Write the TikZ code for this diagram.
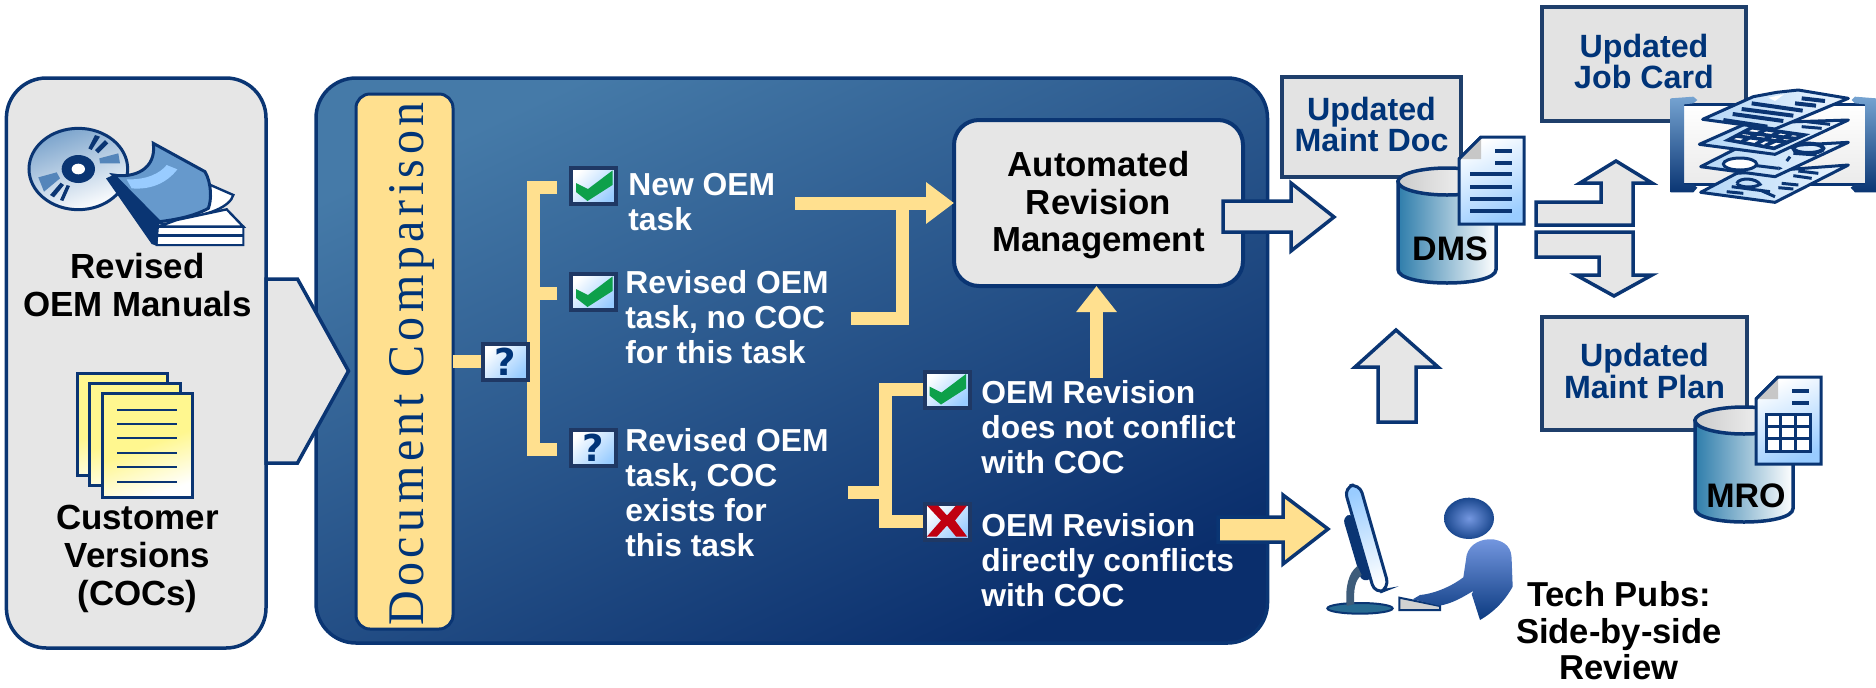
\documentclass[tikz,border=0pt]{standalone}
\usepackage{fontspec}
\setmainfont{Liberation Sans}
\newfontfamily\dcfont[LetterSpace=9.4]{Liberation Serif}
\newfontfamily\qfont{DejaVu Sans}
\usetikzlibrary{arrows.meta}
\definecolor{navy}{HTML}{0A3573}
\definecolor{frameblue}{HTML}{1F3F6B}
\definecolor{iconframe}{HTML}{1F3864}
\definecolor{txtnavy}{HTML}{003478}
\definecolor{panelgrey}{HTML}{E6E6E6}
\definecolor{boxgrey}{HTML}{E3E3E3}
\definecolor{ylw}{HTML}{FFE08F}
\definecolor{iconblue}{HTML}{99CCFF}
\definecolor{okgreen}{HTML}{0DA04A}
\definecolor{xred}{HTML}{C00010}
\definecolor{cyteal}{HTML}{2E7DAB}
\definecolor{midblue}{HTML}{6699CC}
\definecolor{pageyel}{HTML}{FFF78F}
\definecolor{paneltop}{HTML}{457AA8}
\definecolor{panelbot}{HTML}{0A2E6C}
\definecolor{persontop}{HTML}{7497E0}
\definecolor{personbot}{HTML}{0B3A80}
\definecolor{sheetlight}{HTML}{EAF4FE}
\definecolor{sheetdark}{HTML}{B4D7F7}
\tikzset{
  panel/.style={draw=navy,line width=1.75pt,rounded corners=20pt,inner sep=0pt,outer sep=0pt},
  updbox/.style={draw=frameblue,fill=boxgrey,line width=2pt,inner sep=0pt,outer sep=0pt,align=center,text=txtnavy,
    font=\fontsize{16.1}{15.75}\selectfont\bfseries},
  iconbox/.style={draw=iconframe,line width=2pt,minimum width=22.5pt,minimum height=18pt,inner sep=0pt,outer sep=0pt,
    shading=axis,top color=white,bottom color=iconblue,shading angle=45,text=txtnavy,
    font=\fontsize{18.5}{19}\qfont\bfseries},
  yline/.style={draw=ylw,line width=6.5pt,line join=miter},
  ytip/.style={-{Triangle[length=14pt,width=20pt,fill=ylw]}},
  bigarrow/.style={draw=navy,fill=panelgrey,line width=1.75pt,line join=miter},
  whitetxt/.style={text=white,align=left,anchor=north west,inner sep=0pt,font=\fontsize{15.9}{17.5}\selectfont\bfseries},
  blacktxt/.style={text=black,align=center,anchor=north,inner sep=0pt,font=\fontsize{17.45}{19}\selectfont\bfseries},
  techtxt/.style={text=black,align=center,anchor=north,inner sep=0pt,font=\fontsize{17.3}{18.25}\selectfont\bfseries},
  cyltxt/.style={text=black,anchor=base,inner sep=0pt,font=\fontsize{17}{17}\selectfont\bfseries},
  sheetln/.style={draw=navy,line width=1.5pt},
  sheet/.style={draw=navy,line width=1.5pt,line join=round,left color=sheetdark,right color=sheetlight},
  pics/checkmk/.style={code={
    \fill[okgreen] (-17.5,-3) -- (-5.5,3) -- (19,-15.5) -- (19,-1) -- (-6,15) -- (-17.5,6) -- cycle;}},
  pics/xmk/.style={code={
    \fill[xred] (-20,-16) -- (-9,-16) -- (0,-6) -- (9,-16) -- (20,-16) -- (8,-1) -- (20,15) -- (9,15) -- (0,4) -- (-10,15) -- (-20,15) -- (-6,-1) -- cycle;}},
  pics/cylinder/.style={code={
    \shade[draw=navy,line width=1.75pt,left color=cyteal,middle color=iconblue,right color=white]
      (-49,0) -- (-49,88) .. controls (-49,106) and (49,106) .. (49,88) -- (49,0) -- cycle;
    \shade[draw=navy,line width=1.75pt,left color=white!80!black,right color=white]
      (0,0) ellipse [x radius=49,y radius=13.5];}},
  pics/docsheet/.style={code={
    \shade[draw=navy,line width=1.5pt,line join=miter,shading=axis,top color=white,bottom color=iconblue,shading angle=25]
      (0,22) -- (22,0) -- (65,0) -- (65,87) -- (0,87) -- cycle;
    \fill[white!78!black] (0,22) -- (22,0) -- (22,22) -- cycle;
    \draw[navy,line width=1.5pt] (0,22) -- (22,0);
    \draw[navy,line width=1.75pt] (36,14) -- (53,14) (36,26) -- (53,26);}}
}
\newcommand{\updstrut}{\rule[-2.7pt]{0pt}{1pt}}
\begin{document}
\begin{tikzpicture}[x=0.5pt,y=-0.5pt]
\useasboundingbox (0,0) rectangle (1876,687);

% main blue panel
\node[panel,minimum width=475.75pt,minimum height=282.5pt,shading=axis,top color=paneltop,
  bottom color=panelbot,shading angle=25] (proc) at (791.75,360.5) {};
% left panel
\node[panel,fill=panelgrey,minimum width=129.8pt,minimum height=285pt] (inputs) at (136.2,363) {};
\draw[bigarrow] (266,279) -- (297.5,279) -- (348.5,371) -- (297.5,463) -- (266,463) -- cycle;
% doc comparison
\node[panel,fill=ylw,rounded corners=7pt,line width=1.5pt,minimum width=48.5pt,minimum height=267.5pt] (dcbox) at (404.5,361.5) {};
\node[rotate=90,anchor=base,inner sep=0pt,text=txtnavy] (dctext) at (423,364)
  {\scalebox{1}[1.07]{\fontsize{24}{24}\dcfont Document Comparison}};

% --- CD + book
\begin{scope}[shift={(20,120)},x=0.16667pt,y=-0.16667pt]
  \shade[draw=navy,line width=1.5pt,shading=axis,top color=iconblue!80!black,bottom color=white,shading angle=20]
    (175,147) ellipse [x radius=148,y radius=122];
  \fill[navy] (205,85) -- (225,45) -- (240,50) -- (215,90) -- cycle (225,90) -- (255,60) -- (265,70) -- (235,100) -- cycle;
  \fill[midblue!80!navy] (238,115) -- (295,100) -- (300,130) -- (240,130) -- cycle
     (55,172) -- (110,157) -- (120,175) -- (72,215) -- cycle;
  \fill[navy] (122,188) -- (90,225) -- (102,232) -- (132,195) -- cycle (140,195) -- (120,240) -- (130,243) -- (150,198) -- cycle;
  \fill[navy] (175,147) ellipse [x radius=50,y radius=42];
  \fill[white] (175,147) ellipse [x radius=20,y radius=16];
  \fill[white,draw=navy,line width=1pt] (410,310) -- (670,320) -- (670,375) -- (410,375) -- cycle;
  \draw[navy,line width=1.5pt] (415,345) -- (672,345);
  \fill[white,draw=navy,line width=1.2pt] (560,190) -- (640,225) .. controls (630,260) and (570,285) .. (470,300) -- cycle;
  \fill[white,draw=navy,line width=1.2pt] (470,300) -- (620,268) -- (670,320) -- (415,320) -- cycle;
  \fill[navy] (258,175) -- (280,165) -- (418,305) -- (412,378) -- (395,372) -- cycle;
  \fill[midblue,draw=navy,line width=1.5pt] (280,165) .. controls (340,175) and (410,150) .. (400,70)
    -- (555,155) .. controls (575,190) and (575,240) .. (565,265) .. controls (520,290) and (460,300) .. (418,305) -- cycle;
  \fill[iconblue] (320,178) .. controls (380,180) and (420,160) .. (440,135) -- (472,148)
     .. controls (440,190) and (390,210) .. (335,205) -- cycle;
\end{scope}
\node[blacktxt] (revised) at (137.5,251.4) {\strut Revised\\OEM Manuals};

% --- stacked pages
\foreach \xa/\ya/\xb/\yb in {77/373/167/475,89/383/180/485,102/393/192/497}{
  \shade[draw=navy,line width=1.5pt,shading=axis,top color=pageyel,bottom color=white,middle color=pageyel,shading angle=20]
    (\xa,\ya) rectangle (\xb,\yb);
}
\foreach \ly in {410,424,438,453,467,482}{\draw[navy,line width=1.1pt] (117,\ly) -- (177,\ly);}
\node[blacktxt] (customer) at (137.5,502.4) {\strut Customer\\Versions\\(COCs)};

% --- yellow connectors (under the icons)
\coordinate (n1) at (795,203);
\coordinate (n2) at (851,318);
\coordinate (j1) at (902.5,203);
\coordinate (b1t) at (557,187.2);
\coordinate (b1m) at (557,293.2);
\coordinate (b1b) at (557,449.8);
\coordinate (b1v) at (533.7,293.2);
\coordinate (s2) at (848,492.5);
\coordinate (b2v) at (885.5,492.5);
\coordinate (up) at (1096.5,378);
\coordinate (q1w) at (482,361.5);
\coordinate (c4w) at (925,389.5);
\coordinate (x1w) at (925,521.5);
\draw[yline] (dcbox.east) -- (q1w);
\draw[yline] (b1t) -| (b1v) |- (b1b);
\draw[yline] (b1m) -- (b1v);
\draw[yline] (n2) -| (j1);
\draw[yline] (s2) -- (b2v);
\draw[yline] (c4w) -| (b2v) |- (x1w);

% --- icons
\node[iconbox] (q1) at (505,361.8) {?};
\node[iconbox] (c1) at (593.5,186) {};
\node[iconbox] (c2) at (593.5,292) {};
\node[iconbox] (q2) at (593.5,448) {?};
\node[iconbox] (c4) at (947,389.5) {};
\node[iconbox] (x1) at (947,521.5) {};
\pic at (c1.center) {checkmk};
\pic at (c2.center) {checkmk};
\pic at (c4.center) {checkmk};
\pic at (x1.center) {xmk};

% --- texts in panel
\node[whitetxt] (t1) at (628,170.5) {\strut New OEM\\task};
\node[whitetxt] (t2) at (625,268.5) {\strut Revised OEM\\task, no COC\\for this task};
\node[whitetxt] (t3) at (625,426.5) {\strut Revised OEM\\task, COC\\exists for\\this task};
\node[whitetxt] (t4) at (981,378.5) {\strut OEM Revision\\does not conflict\\with COC};
\node[whitetxt] (t5) at (981,511.5) {\strut OEM Revision\\directly conflicts\\with COC};

% --- ARM box
\node[panel,fill=panelgrey,rounded corners=12.5pt,line width=2pt,minimum width=144.5pt,minimum height=83pt,
  text=black,align=center,font=\fontsize{17.4}{18.75}\selectfont\bfseries] (arm) at (1098.5,203) {\rule{0pt}{15pt}Automated\\Revision\\Management};
\draw[yline,ytip] (n1) -- (arm.west);
\draw[yline,-{Triangle[length=13pt,width=19.5pt,fill=ylw]}] (up) -- (up |- arm.south);

% --- outgoing arrows
\draw[bigarrow] (1223,201) -- (1291,201) -- (1291,183) -- (1334,217) -- (1291,251) -- (1291,232) -- (1223,232) -- cycle;
\draw[bigarrow,fill=ylw] (1218,517) -- (1283,517) -- (1283,495) -- (1328,529) -- (1283,564) -- (1283,542) -- (1218,542) -- cycle;
\draw[bigarrow] (1536,202) -- (1601,202) -- (1601,183) -- (1580,183) -- (1616,161) -- (1652,183) -- (1633,183) -- (1633,225) -- (1536,225) -- cycle;
\draw[bigarrow] (1536,232) -- (1633,232) -- (1633,275) -- (1652,275) -- (1614,296) -- (1576,275) -- (1599,275) -- (1599,257) -- (1536,257) -- cycle;
\draw[bigarrow] (1378,422) -- (1378,367) -- (1355,367) -- (1396,330) -- (1438,367) -- (1416,367) -- (1416,422) -- cycle;

% --- Updated boxes
\node[updbox,minimum width=89.5pt,minimum height=50pt] (mdoc) at (1371.5,127) {Updated\\Maint Doc\updstrut};
\node[updbox,minimum width=102pt,minimum height=57pt] (jcard) at (1644,64) {Updated\\Job Card\updstrut};
\node[updbox,minimum width=102.5pt,minimum height=56.5pt] (mplan) at (1644.5,373.5) {Updated\\Maint Plan\updstrut};

% --- DMS
\pic at (1447,181.5) {cylinder};
\pic at (1459,137) {docsheet};
\foreach \ly in {174,187,199,211}{\draw[navy,line width=1.75pt] (1470,\ly) -- (1512,\ly);}
\node[cyltxt] (dms) at (1450,260) {DMS};

% --- MRO
\pic at (1744,420.5) {cylinder};
\pic at (1756,377) {docsheet};
\fill[white] (1766,414) rectangle (1810,451);
\draw[navy,line width=1.5pt] (1766,414) rectangle (1810,451);
\foreach \gx in {1780.7,1795.3}{\draw[navy,line width=1.5pt] (\gx,414) -- (\gx,451);}
\foreach \gy in {426.3,438.7}{\draw[navy,line width=1.5pt] (1766,\gy) -- (1810,\gy);}
\node[cyltxt] (mro) at (1746,507) {MRO};

% --- job card stack
\begin{scope}[shift={(1660,85)},x=0.16667pt,y=-0.16667pt]
  \shade[top color=white,bottom color=black!8] (72,58) rectangle (615,298);
  \draw[navy,line width=1.2pt] (72,58) -- (615,58) (72,298) -- (615,298);
  \shade[top color=midblue!90!white,bottom color=navy] (32,40) -- (100,35) -- (112,45) -- (100,55) -- (72,58) -- (72,298) -- (100,298) -- (112,308) -- (100,322) -- (32,322) -- cycle;
  \shade[top color=midblue!90!white,bottom color=navy] (648,40) -- (585,35) -- (575,45) -- (585,55) -- (615,58) -- (615,298) -- (585,298) -- (572,308) -- (585,322) -- (648,322) -- cycle;
  % bottom sheet
  \path[sheet] (122,322) -- (230,265) -- (565,240) -- (345,352) -- cycle;
  \draw[sheetln] (415,258) -- (475,265) (400,272) -- (455,280) (365,295) -- (415,300) (355,308) -- (400,312);
  \draw[sheetln] (230,295) .. controls (240,275) and (290,280) .. (300,298) .. controls (280,310) and (240,308) .. (230,295);
  \draw[sheetln] (200,320) -- (250,325) (215,305) -- (330,320) (300,315) -- (345,335);
  % third sheet
  \path[sheet] (122,245) -- (230,190) -- (565,172) -- (345,275) -- cycle;
  \fill[white,draw=navy,line width=1.5pt] (240,237) ellipse [x radius=50,y radius=18];
  \draw[sheetln] (290,242) -- (355,250);
  \fill[navy] (355,244) -- (368,250) -- (355,256) -- cycle;
  \draw[navy,line width=2pt] (445,190) ellipse [x radius=45,y radius=14];
  \draw[sheetln] (400,205) -- (470,210) (390,215) -- (380,228);
  % second sheet
  \path[sheet] (118,178) -- (260,115) -- (565,105) -- (345,208) -- cycle;
  \fill[white,draw=navy,line width=1.8pt] (205,165) -- (275,128) -- (432,150) -- (342,190) -- cycle;
  \draw[navy,line width=1.8pt] (228,153) -- (385,172) (250,142) -- (408,161) (245,170) -- (315,135) (288,177) -- (358,140) (315,182) -- (395,146);
  \draw[sheetln] (440,110) -- (510,118) (425,125) -- (485,130);
  % top sheet
  \path[sheet] (128,103) -- (280,35) -- (350,22) -- (415,15) -- (565,40) -- (345,132) -- cycle;
  \fill[white] (325,38) -- (372,28) -- (345,48) -- cycle;
  \draw[navy,line width=2pt] (190,105) -- (322,125) (218,87) -- (370,108) (245,72) -- (400,92) (275,55) -- (428,77);
  \draw[navy,line width=2pt] (425,40) -- (495,48) (405,55) -- (468,62);
\end{scope}

% --- computer and operator
\begin{scope}[shift={(1320,480)},x=0.16667pt,y=-0.16667pt]
  \fill[navy,rounded corners=3pt] (68,112) -- (98,100) -- (160,295) -- (125,305) -- cycle;
  \fill[cyteal!85!black,draw=navy,line width=1pt] (120,385) ellipse [x radius=98,y radius=16];
  \fill[midblue!60!black] (112,258) .. controls (85,280) and (75,320) .. (80,378) -- (103,372) .. controls (100,330) and (105,300) .. (125,285) -- cycle;
  \shade[draw=navy,line width=1.5pt,rounded corners=5pt,shading=axis,top color=iconblue,bottom color=white,shading angle=17]
     (72,22) -- (118,10) -- (208,325) -- (165,342) -- cycle;
  \fill[black!18,draw=navy,line width=1pt] (238,353) -- (360,378) -- (360,390) -- (238,390) -- cycle;
  \shade[inner color=persontop,outer color=personbot!85!persontop] (447,115) ellipse [x radius=75,y radius=62];
  \shade[top color=persontop,bottom color=personbot]
    (440,225) .. controls (450,190) and (485,175) .. (520,178) .. controls (560,185) and (575,205) .. (575,240)
    -- (578,320) .. controls (550,370) and (515,400) .. (480,420) -- (455,342) -- (512,248) -- (468,328)
    .. controls (430,350) and (400,370) .. (358,377) -- (278,358) -- (300,345) .. controls (350,340) and (400,315) .. (430,292) -- cycle;
\end{scope}
\node[techtxt] (tech) at (1619,580.95) {\strut Tech Pubs:\\Side-by-side\\Review};
\end{tikzpicture}
\end{document}
